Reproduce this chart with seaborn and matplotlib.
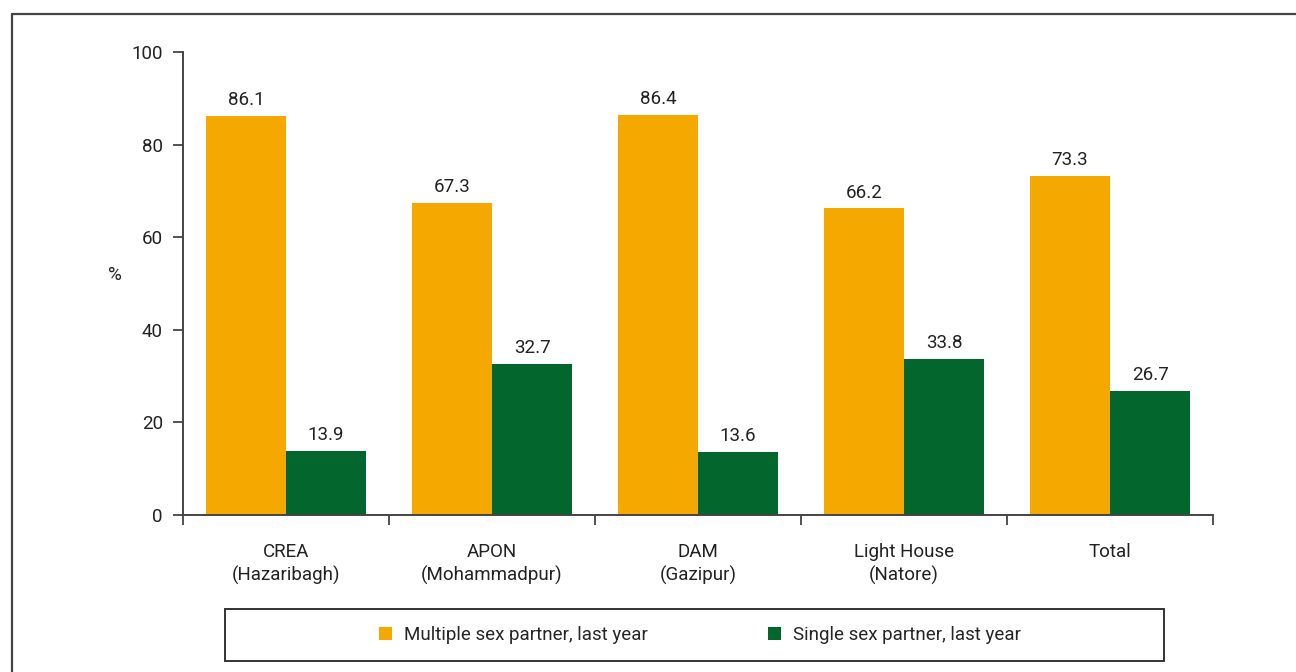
import matplotlib
matplotlib.use("Agg")
import matplotlib.pyplot as plt
import seaborn as sns
import pandas as pd
from matplotlib.lines import Line2D
from matplotlib.patches import Rectangle

categories = ["CREA\n(Hazaribagh)", "APON\n(Mohammadpur)", "DAM\n(Gazipur)", "Light House\n(Natore)", "Total"]
series_names = ["Multiple sex partner, last year", "Single sex partner, last year"]
multiple = [86.1, 67.3, 86.4, 66.2, 73.3]
single = [13.9, 32.7, 13.6, 33.8, 26.7]
yticks = [0, 20, 40, 60, 80, 100]
colors = ["#F5A800", "#03672D"]

sns.set_style("white")
plt.rcParams['font.family'] = ['Roboto', 'DejaVu Sans']
FS = 13.5
TXT = "#222222"

df = pd.DataFrame({
    "cat": categories * 2,
    "series": [series_names[0]] * len(categories) + [series_names[1]] * len(categories),
    "value": multiple + single,
})

fig = plt.figure(figsize=(12.96, 6.72), dpi=100)
ax = fig.add_axes([183/1296, 1 - 515/672, (1213-183)/1296, (515-52)/672])

sns.barplot(data=df, x="cat", y="value", hue="series", order=categories,
            hue_order=series_names, palette=colors, width=0.78, saturation=1,
            ax=ax, errorbar=None, legend=True, linewidth=0, edgecolor="none")

for cont in ax.containers:
    ax.bar_label(cont, fmt="%.1f", padding=5, fontsize=FS, color=TXT)

ax.set_ylim(0, 100)
ax.set_xlim(-0.5, len(categories) - 0.5)
ax.set_yticks(yticks)
ax.set_yticklabels([str(t) for t in yticks], fontsize=FS, color=TXT)
ax.set_xticks(range(len(categories)))
ax.set_xticklabels(categories, fontsize=FS, color=TXT, linespacing=1.35)
ax.tick_params(axis="x", length=0, pad=20)
ax.tick_params(axis="y", length=7.5, width=1.3, color="#444444", direction="out", pad=7, left=True)
ax.set_xticks([i - 0.5 for i in range(len(categories) + 1)], minor=True)
ax.tick_params(axis="x", which="minor", length=7.5, width=1.3, color="#444444", direction="out", bottom=True)

ax.set_xlabel("")
ax.set_ylabel("%", rotation=0, fontsize=FS, color=TXT)
ax.yaxis.set_label_coords(-0.066, 0.5)

for s in ["top", "right"]:
    ax.spines[s].set_visible(False)
for s in ["left", "bottom"]:
    ax.spines[s].set_color("#444444")
    ax.spines[s].set_linewidth(1.4)

handles, labels = ax.get_legend_handles_labels()
ax.get_legend().remove()
fig.legend(handles, labels, loc="center", ncol=2,
           bbox_to_anchor=(700/1296, 1 - 635/672), frameon=False, fontsize=FS,
           handlelength=0.7, handleheight=0.7, handletextpad=0.64, columnspacing=6.4)
fig.patches.append(Rectangle((225/1296, 1 - 661/672), 939/1296, (661-609)/672,
                             transform=fig.transFigure, fill=False, edgecolor="#333333", lw=1.4))
# outer border: top and left only
fig.add_artist(Line2D([11.5/1296, 1.0], [1 - 13.5/672, 1 - 13.5/672],
                      transform=fig.transFigure, color="#444444", lw=1.6))
fig.add_artist(Line2D([11.5/1296, 11.5/1296], [0.0, 1 - 13.5/672],
                      transform=fig.transFigure, color="#444444", lw=1.6))

fig.savefig("out.png", dpi=100)
